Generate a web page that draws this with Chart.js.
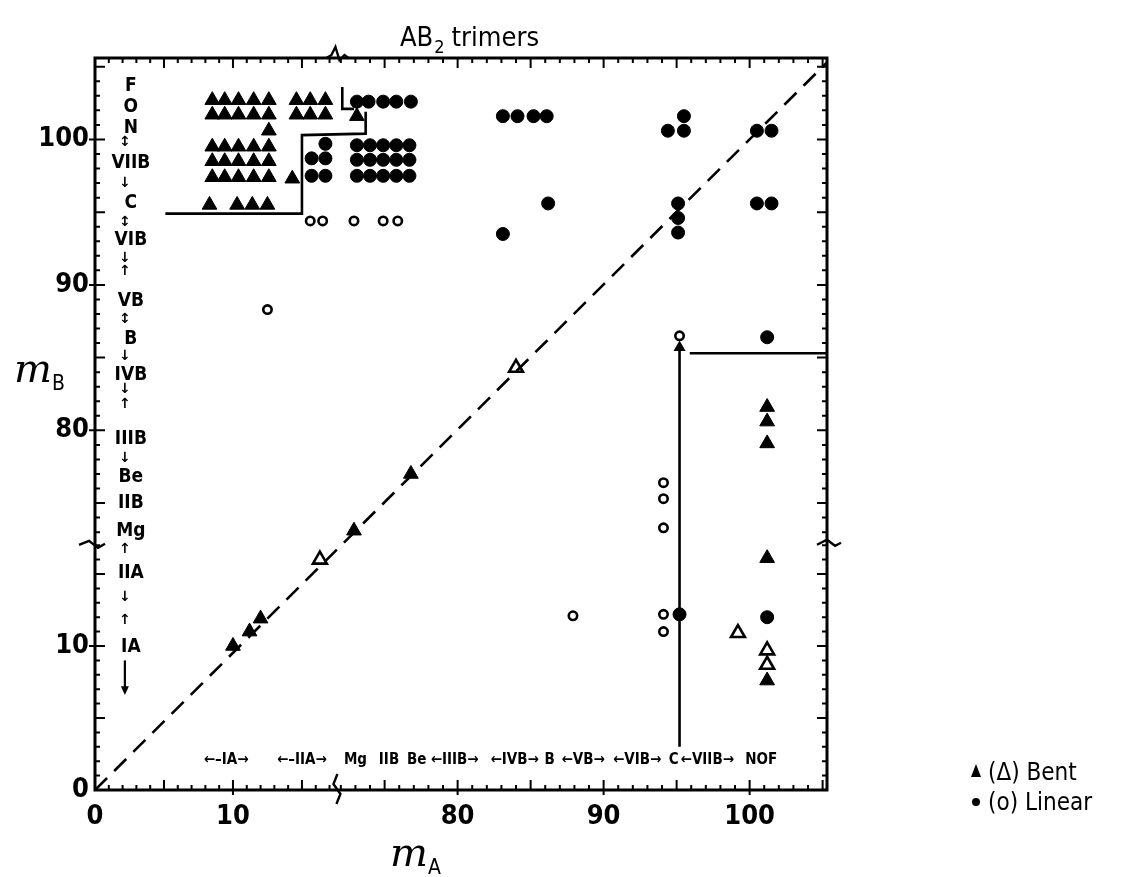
<!DOCTYPE html>
<html>
<head>
<meta charset="utf-8">
<script src="https://cdn.jsdelivr.net/npm/chart.js@4.4.1/dist/chart.umd.min.js"></script>
<style>
  html, body { margin: 0; padding: 0; background: #fff; }
</style>
</head>
<body>
<canvas id="c" width="1124" height="877"></canvas>
<script>
// both axes are broken: they jump from ~17 straight up to ~72
const xTicks = [0, 10, 80, 90, 100];
const yTicks = [0, 10, 80, 90, 100];

// filled triangles = bent
const bentSolid = [
  [8.5, 102.7], [9.4, 102.7], [10.4, 102.7], [11.5, 102.7], [12.6, 102.7],
  [8.5, 101.7], [9.4, 101.7], [10.4, 101.7], [11.5, 101.7], [12.6, 101.7],
  [14.6, 102.7], [15.6, 102.7], [16.7, 102.7],
  [14.6, 101.7], [15.6, 101.7], [16.7, 101.7],
  [12.6, 100.6],
  [8.5, 99.5], [9.4, 99.5], [10.4, 99.5], [11.5, 99.5], [12.6, 99.5],
  [8.5, 98.5], [9.4, 98.5], [10.4, 98.5], [11.5, 98.5], [12.6, 98.5],
  [8.5, 97.4], [9.4, 97.4], [10.4, 97.4], [11.5, 97.4], [12.6, 97.4],
  [14.3, 97.3],
  [8.3, 95.5], [10.3, 95.5], [11.4, 95.5], [12.5, 95.5],
  [73.1, 101.6],
  [10, 10], [11.2, 11.0], [12.0, 11.9], [72.9, 73.1], [76.8, 77.0],
  [101.2, 81.6], [101.2, 80.6], [101.2, 79.1], [101.2, 16.1], [101.2, 7.6]
];
// open triangles = bent
const bentOpen = [
  [16.3, 16.0], [84.0, 84.3], [99.2, 10.9], [101.2, 9.7], [101.2, 8.7]
];
// filled circles = linear
const linearSolid = [
  [73.1, 102.6], [73.9, 102.6], [74.9, 102.6], [75.8, 102.6], [76.8, 102.6],
  [16.7, 99.7], [15.7, 98.7], [16.7, 98.7], [15.7, 97.5], [16.7, 97.5],
  [73.1, 99.6], [74.0, 99.6], [74.9, 99.6], [75.8, 99.6], [76.7, 99.6],
  [73.1, 98.6], [74.0, 98.6], [74.9, 98.6], [75.8, 98.6], [76.7, 98.6],
  [73.1, 97.5], [74.0, 97.5], [74.9, 97.5], [75.8, 97.5], [76.7, 97.5],
  [83.1, 101.6], [84.1, 101.6], [85.2, 101.6], [86.1, 101.6],
  [95.5, 101.6], [94.4, 100.6], [95.5, 100.6], [100.5, 100.6], [101.5, 100.6],
  [86.2, 95.6], [83.1, 93.5],
  [95.1, 95.6], [95.1, 94.6], [95.1, 93.6], [100.5, 95.6], [101.5, 95.6],
  [101.2, 86.4], [101.2, 12.0], [95.2, 12.2]
];
// open circles = linear
const linearOpen = [
  [15.6, 94.4], [16.5, 94.4], [72.9, 94.4], [74.9, 94.4], [75.9, 94.4],
  [12.5, 88.3], [95.2, 86.5],
  [94.1, 76.4], [94.1, 75.3], [94.1, 73.3],
  [87.9, 12.1], [94.1, 12.2], [94.1, 11.0]
];

const diagonal = [[0, 0], [105.3, 105.3]];
const borderUpper = [[5.1, 94.9], [15.0, 94.9], [15.0, 100.3], [73.7, 100.4], [73.7, 101.9]];
const borderHook = [[72.1, 103.6], [72.1, 102.1], [72.9, 102.1]];
const borderCUp = [[95.2, 3.0], [95.2, 85.7]];
const borderCRight = [[95.9, 85.3], [105.3, 85.3]];

// group labels along the axes
const groupsY = [
  ['F', 103.7], ['O', 102.2], ['N', 100.8], ['↕', 99.8], ['VIIB', 98.4], ['↓', 97.0],
  ['C', 95.6], ['↕', 94.3], ['VIB', 93.1], ['↓', 91.8], ['↑', 90.9], ['VB', 88.9],
  ['↕', 87.6], ['B', 86.3], ['↓', 85.1], ['IVB', 83.8], ['↓', 82.8], ['↑', 81.8],
  ['IIIB', 79.4], ['↓', 78.1], ['Be', 76.8], ['IIB', 75.0], ['Mg', 73.1],
  ['↑', 16.7], ['IIA', 15.1], ['↓', 13.4], ['↑', 11.8], ['IA', 9.9]
];
const groupsX = [
  ['←–IA→', 9.5], ['←–IIA→', 15.0], ['Mg', 73.0], ['IIB', 75.3], ['Be', 77.2],
  ['←IIIB→', 79.8], ['←IVB→', 83.9], ['B', 86.3], ['←VB→', 88.6], ['←VIB→', 92.3],
  ['C', 94.8], ['←VIIB→', 97.1], ['NOF', 100.8]
];

const X_LO = 17.5, X_HI = 71.7, X_K = 0.945, X_MAX = 105.3;
const Y_LO = 17.1, Y_HI = 72.2, Y_K = 0.99, Y_MAX = 105.6;
function squeeze(v, lo, hi, k) {
  return v <= lo ? v * k : lo * k + (v - hi);
}
const fx = v => squeeze(v, X_LO, X_HI, X_K);
const fy = v => squeeze(v, Y_LO, Y_HI, Y_K);
const pts = arr => arr.map(([a, b]) => ({ x: fx(a), y: fy(b) }));

const NARROW = '"Liberation Sans Narrow", "DejaVu Sans Condensed", "DejaVu Sans", sans-serif';

function zig(ctx, list) {
  ctx.beginPath();
  list.forEach(([a, b], i) => i ? ctx.lineTo(a, b) : ctx.moveTo(a, b));
  ctx.stroke();
}

const inkPlugin = {
  id: 'ink',
  afterDraw(chart) {
    const { ctx, chartArea: a, scales: { x, y } } = chart;
    const px = v => x.getPixelForValue(fx(v));
    const py = v => y.getPixelForValue(fy(v));
    ctx.save();
    ctx.strokeStyle = '#000';
    ctx.fillStyle = '#000';
    ctx.lineWidth = 3;
    ctx.strokeRect(a.left, a.top, a.right - a.left, a.bottom - a.top);

    // inward ticks on all four sides
    ctx.lineWidth = 2;
    const xs = [], ys = [];
    for (let v = 1; v <= 17; v++) { xs.push(v); ys.push(v); }
    for (let v = 72; v <= 105; v++) xs.push(v);
    for (let v = 73; v <= 105; v++) ys.push(v);
    ctx.beginPath();
    xs.forEach(v => {
      const p = px(v), len = v % 5 === 0 ? 10 : 5;
      const out = xTicks.includes(v) ? 5 : 0;
      ctx.moveTo(p, a.bottom + out); ctx.lineTo(p, a.bottom - len);
      ctx.moveTo(p, a.top); ctx.lineTo(p, a.top + len);
    });
    ys.forEach(v => {
      const p = py(v), len = v % 5 === 0 ? 10 : 5;
      const out = yTicks.includes(v) ? 6 : 0;
      ctx.moveTo(a.left - out, p); ctx.lineTo(a.left + len, p);
      ctx.moveTo(a.right, p); ctx.lineTo(a.right - len, p);
    });
    ctx.stroke();

    // break marks
    ctx.lineWidth = 2.4;
    const bx = x.getPixelForValue(fx(X_LO));
    const by = y.getPixelForValue(fy(Y_LO));
    zig(ctx, [[bx + 1, a.bottom - 16], [bx - 3, a.bottom - 6], [bx + 4, a.bottom + 4], [bx, a.bottom + 14]]);
    zig(ctx, [[bx - 10, a.top], [bx - 5, a.top - 3], [bx - 1, a.top - 11], [bx + 3, a.top + 2], [bx + 8, a.top - 3], [bx + 12, a.top]]);
    zig(ctx, [[a.left - 16, by + 1], [a.left - 6, by - 3], [a.left + 3, by + 4], [a.left + 10, by]]);
    zig(ctx, [[a.right - 10, by + 1], [a.right, by - 4], [a.right + 8, by + 2], [a.right + 14, by - 1]]);

    // group labels down the left side
    ctx.textAlign = 'center';
    ctx.textBaseline = 'middle';
    const lx = px(2.6);
    groupsY.forEach(([t, v]) => {
      const arrow = t.length === 1 && '↕↓↑'.includes(t);
      ctx.font = arrow ? 'bold 14px "DejaVu Sans", sans-serif' : 'bold 19px ' + NARROW;
      ctx.fillText(t, arrow ? lx - 6 : lx, py(v));
    });
    ctx.lineWidth = 2.2;
    ctx.beginPath();
    ctx.moveTo(lx - 6, py(9.0)); ctx.lineTo(lx - 6, py(6.8));
    ctx.stroke();
    ctx.beginPath();
    ctx.moveTo(lx - 10, py(7.2)); ctx.lineTo(lx - 2, py(7.2)); ctx.lineTo(lx - 6, py(6.6));
    ctx.closePath(); ctx.fill();

    // group labels along the bottom
    ctx.font = 'bold 15px ' + NARROW;
    groupsX.forEach(([t, v]) => ctx.fillText(t, px(v), py(2.1)));

    // title
    ctx.textAlign = 'left';
    ctx.textBaseline = 'alphabetic';
    ctx.font = '27px ' + NARROW;
    ctx.fillText('AB', 400, 46);
    let w = ctx.measureText('AB').width;
    ctx.font = '18px ' + NARROW;
    ctx.fillText('2', 400 + w + 1, 53);
    w += ctx.measureText('2').width + 8;
    ctx.font = '27px ' + NARROW;
    ctx.fillText('trimers', 400 + w, 46);

    // axis titles
    ctx.font = 'italic 40px "DejaVu Serif", serif';
    ctx.fillText('m', 390, 866);
    ctx.fillText('m', 14, 382);
    ctx.font = '21px ' + NARROW;
    ctx.fillText('A', 428, 874);
    ctx.fillText('B', 52, 390);

    // legend
    ctx.font = '24px ' + NARROW;
    ctx.beginPath();
    ctx.moveTo(976, 764); ctx.lineTo(971, 777); ctx.lineTo(981, 777);
    ctx.closePath(); ctx.fill();
    ctx.fillText('(Δ) Bent', 988, 780);
    ctx.beginPath();
    ctx.arc(976, 802, 4, 0, Math.PI * 2); ctx.fill();
    ctx.fillText('(o) Linear', 988, 810);
    ctx.restore();
  }
};

const lineSet = (data, extra) => Object.assign({
  data: pts(data), showLine: true, borderColor: '#000', borderWidth: 2.6,
  pointRadius: 0, fill: false
}, extra);

new Chart(document.getElementById('c'), {
  type: 'scatter',
  data: {
    datasets: [
      lineSet(diagonal, { borderDash: [17, 10] }),
      lineSet(borderUpper),
      lineSet(borderHook),
      lineSet(borderCUp, { pointStyle: 'triangle', pointRadius: [0, 7], pointBackgroundColor: '#000', pointBorderWidth: 0 }),
      lineSet(borderCRight),
      { label: 'Bent', data: pts(bentSolid), pointStyle: 'triangle', pointRadius: 8.5,
        backgroundColor: '#000', borderColor: '#000', borderWidth: 1 },
      { label: 'Bent (open)', data: pts(bentOpen), pointStyle: 'triangle', pointRadius: 8,
        backgroundColor: '#fff', borderColor: '#000', borderWidth: 2.6 },
      { label: 'Linear', data: pts(linearSolid), pointStyle: 'circle', pointRadius: 6.5,
        backgroundColor: '#000', borderColor: '#000', borderWidth: 1 },
      { label: 'Linear (open)', data: pts(linearOpen), pointStyle: 'circle', pointRadius: 4.2,
        backgroundColor: '#fff', borderColor: '#000', borderWidth: 2.6 }
    ]
  },
  options: {
    responsive: false,
    animation: false,
    devicePixelRatio: 1,
    layout: { padding: { left: 0, right: 297, top: 58, bottom: 47 } },
    plugins: { legend: { display: false }, tooltip: { enabled: false }, title: { display: false } },
    scales: {
      x: {
        type: 'linear', min: 0, max: fx(X_MAX),
        grid: { display: false, drawTicks: false }, border: { display: false },
        afterBuildTicks: s => { s.ticks = xTicks.map(v => ({ value: fx(v) })); },
        afterFit: s => { s.height = 40; },
        ticks: { autoSkip: false, maxRotation: 0, padding: 11, color: '#000',
          font: { family: NARROW, size: 27, weight: 'bold' }, callback: (v, i) => xTicks[i] }
      },
      y: {
        type: 'linear', min: 0, max: fy(Y_MAX),
        grid: { display: false, drawTicks: false }, border: { display: false },
        afterBuildTicks: s => { s.ticks = yTicks.map(v => ({ value: fy(v) })); },
        afterFit: s => { s.width = 95; },
        ticks: { autoSkip: false, padding: 6, color: '#000',
          font: { family: NARROW, size: 27, weight: 'bold' }, callback: (v, i) => yTicks[i] }
      }
    }
  },
  plugins: [inkPlugin]
});
</script>
</body>
</html>
